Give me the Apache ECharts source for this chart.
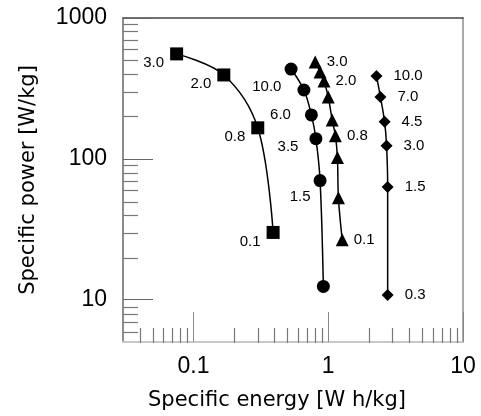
<!DOCTYPE html>
<html>
<head>
<meta charset="utf-8">
<script src="https://cdn.jsdelivr.net/npm/echarts@6/dist/echarts.min.js"></script>
<style>
	html, body { margin: 0; padding: 0; background: #fff; }
	#chart { width: 481px; height: 416px; }
</style>
</head>
<body>
<div id="chart"></div>
<script>
// squares
const squareEnergy = [0.075, 0.168, 0.30, 0.39];
const squarePower = [556, 394, 166, 30];
const squareLabels = ['3.0', '2.0', '0.8', '0.1'];
// circles
const circleEnergy = [0.53, 0.66, 0.75, 0.81, 0.87, 0.92];
const circlePower = [434, 308, 205, 139, 70, 12.4];
const circleLabels = ['', '10.0', '6.0', '3.5', '1.5', ''];
// triangles
const triEnergy = [0.80, 0.87, 0.93, 1.0, 1.07, 1.13, 1.17, 1.19, 1.27];
const triPower = [487, 414, 357, 275, 189, 146, 102, 53, 26.6];
const triLabels = ['3.0', '', '2.0', '', '', '0.8', '', '', '0.1'];
// diamonds
const diaEnergy = [2.28, 2.44, 2.62, 2.71, 2.76, 2.76];
const diaPower = [388, 275, 183, 124, 63, 10.8];
const diaLabels = ['10.0', '7.0', '4.5', '3.0', '1.5', '0.3'];

const xMajorTicks = [0.1, 1, 10];
const xMinorTicks = [0.04, 0.05, 0.06, 0.07, 0.08, 0.09, 0.2, 0.3, 0.4, 0.5, 0.6, 0.7, 0.8, 0.9, 2, 3, 4, 5, 6, 7, 8, 9];
const yMajorTicks = [10, 100, 1000];
const yMinorTicks = [6, 7, 8, 9, 20, 30, 40, 50, 60, 70, 80, 90, 200, 300, 400, 500, 600, 700, 800, 900];

// per-point nudges for the circle labels
const circleLabelOffsets = [[0, 0], [-11, -3], [-9, 0], [-6, 8], [2, 16], [0, 0]];

const chart = echarts.init(document.getElementById('chart'));

const gridBox = { left: 123, right: 18, top: 18, bottom: 73 };
const tickFont = { fontFamily: 'Liberation Sans', fontSize: 23, color: '#000' };
const nameFont = { fontFamily: 'DejaVu Sans', fontSize: 21, color: '#000' };
const labelFont = { fontFamily: 'Liberation Sans', fontSize: 15, color: '#000' };

function pairs (xs, ys) {
	return xs.map(function (x, i) { return [x, ys[i]]; });
}

function plainNum (v) { return String(v); }

function makeSeries (name, symbol, size, xs, ys, labels, labelPos, labelDist, labelOffset, perPoint) {
	return {
		name: name,
		type: 'line',
		xAxisIndex: 0,
		yAxisIndex: 0,
		smooth: 0.35,
		symbol: symbol,
		symbolSize: size,
		showAllSymbol: true,
		lineStyle: { color: '#000', width: 1.5 },
		itemStyle: { color: '#000' },
		label: Object.assign({
			show: true,
			position: labelPos,
			distance: labelDist,
			offset: labelOffset,
			formatter: function (p) { return labels[p.dataIndex]; }
		}, labelFont),
		data: pairs(xs, ys).map(function (d, i) {
			const item = { value: d };
			if (perPoint) item.label = { offset: perPoint[i] };
			return item;
		}),
		z: 5
	};
}

const option = {
	animation: false,
	backgroundColor: '#fff',
	grid: [
		Object.assign({}, gridBox),
		Object.assign({}, gridBox)
	],
	xAxis: [
		{
			type: 'log', gridIndex: 0, position: 'bottom', min: 0.03, max: 10,
			name: 'Specific energy [W h/kg]', nameLocation: 'middle', nameGap: 48,
			nameTextStyle: Object.assign({ padding: [0, 32, 0, 0] }, nameFont),
			axisLine: { show: true, lineStyle: { color: '#c8c8c8', width: 2 } },
			axisTick: { show: true, inside: true, length: 30, customValues: xMajorTicks, lineStyle: { color: '#888', width: 1 } },
			axisLabel: Object.assign({ customValues: xMajorTicks, margin: 13, formatter: plainNum }, tickFont),
			splitLine: { show: false }
		},
		{
			type: 'log', gridIndex: 0, position: 'top', min: 0.03, max: 10,
			axisLine: { show: true, lineStyle: { color: '#444', width: 1.5 } },
			axisTick: { show: false }, axisLabel: { show: false }, splitLine: { show: false }
		},
		{
			type: 'log', gridIndex: 1, position: 'bottom', min: 0.03, max: 10,
			axisLine: { show: false },
			axisTick: { show: true, inside: true, length: 15, customValues: xMinorTicks, lineStyle: { color: '#777', width: 1.2 } },
			axisLabel: { show: false }, splitLine: { show: false }
		}
	],
	yAxis: [
		{
			type: 'log', gridIndex: 0, position: 'left', min: 5, max: 1000,
			name: 'Specific power [W/kg]', nameLocation: 'middle', nameGap: 84,
			nameTextStyle: nameFont,
			axisLine: { show: true, lineStyle: { color: '#666', width: 1.5 } },
			axisTick: { show: true, inside: true, length: 30, customValues: yMajorTicks, lineStyle: { color: '#666', width: 1 } },
			axisLabel: Object.assign({ customValues: yMajorTicks, margin: 16, formatter: plainNum }, tickFont),
			splitLine: { show: false }
		},
		{
			type: 'log', gridIndex: 0, position: 'right', min: 5, max: 1000,
			axisLine: { show: true, lineStyle: { color: '#aaa', width: 2 } },
			axisTick: { show: false }, axisLabel: { show: false }, splitLine: { show: false }
		},
		{
			type: 'log', gridIndex: 1, position: 'left', min: 5, max: 1000,
			axisLine: { show: false },
			axisTick: { show: true, inside: true, length: 15, customValues: yMinorTicks, lineStyle: { color: '#777', width: 1.2 } },
			axisLabel: { show: false }, splitLine: { show: false }
		}
	],
	series: [
		makeSeries('square', 'rect', 13, squareEnergy, squarePower, squareLabels, 'left', 6, [0, 9]),
		makeSeries('circle', 'circle', 13, circleEnergy, circlePower, circleLabels, 'left', 5, [0, 0], circleLabelOffsets),
		makeSeries('triangle', 'triangle', 13, triEnergy, triPower, triLabels, 'right', 5, [0, 0]),
		makeSeries('diamond', 'diamond', 12, diaEnergy, diaPower, diaLabels, 'right', 11, [0, 0])
	]
};

chart.setOption(option);
</script>
</body>
</html>
